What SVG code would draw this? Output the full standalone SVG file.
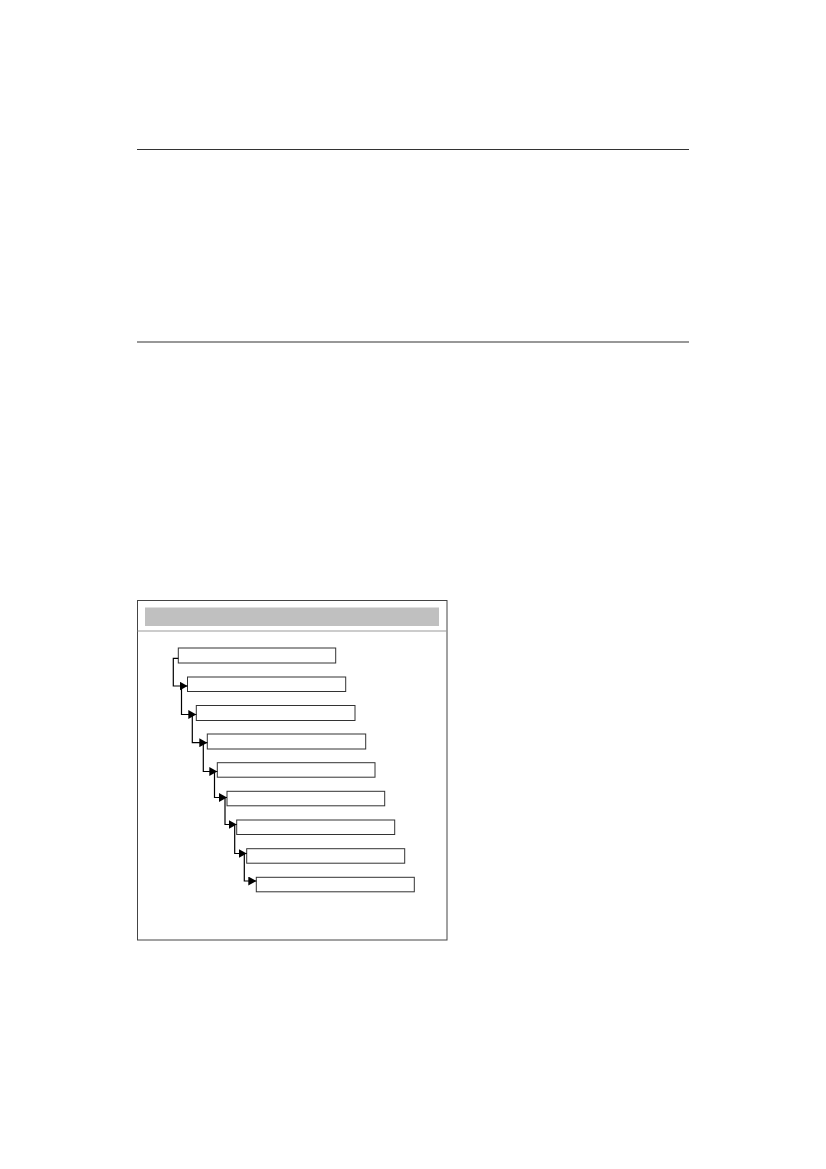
<svg xmlns="http://www.w3.org/2000/svg" width="826" height="1169" viewBox="0 0 826 1169">
<style>
.rule{stroke:#333;stroke-width:1.2;fill:none}
.box{fill:#fff;stroke:#333;stroke-width:1}
.conn{fill:none;stroke:#000;stroke-width:1.2}
</style>
<defs>
<marker id="arr" markerUnits="userSpaceOnUse" markerWidth="9" markerHeight="9" refX="8" refY="4.5" orient="auto">
<path d="M0,0 L8,4.5 L0,9 Z" fill="#000"/>
</marker>
</defs>
<rect width="826" height="1169" fill="#fff"/>
<line class="rule" x1="137" y1="149.5" x2="689" y2="149.5" stroke="#555"/>
<line class="rule" x1="137" y1="342" x2="689" y2="342" stroke="#000"/>
<g id="frame">
<rect x="137.5" y="600.5" width="309.5" height="339.5" fill="#fff" stroke="#444" stroke-width="1"/>
<rect x="145" y="607.5" width="294" height="18.5" fill="#c0c0c0"/>
<line x1="137.5" y1="631" x2="447" y2="631" stroke="#999" stroke-width="1"/>
</g>
<g id="nodes">
<g id="n0"><rect class="box" x="178.3" y="648" width="157.4" height="15"/></g>
<g id="n1"><rect class="box" x="187.5" y="677" width="158.2" height="14.5"/></g>
<g id="n2"><rect class="box" x="196.3" y="705.5" width="158.7" height="15" stroke="#888"/></g>
<g id="n3"><rect class="box" x="207.3" y="734" width="158.4" height="15"/></g>
<g id="n4"><rect class="box" x="217.3" y="762.7" width="157.7" height="14.5" stroke="#888"/></g>
<g id="n5"><rect class="box" x="227" y="791.3" width="157.7" height="14.5"/></g>
<g id="n6"><rect class="box" x="236.7" y="820" width="158" height="14.5"/></g>
<g id="n7"><rect class="box" x="246.7" y="848.7" width="158" height="14.5"/></g>
<g id="n8"><rect class="box" x="256.3" y="877.3" width="158" height="14.5"/></g>
</g>
<g id="connectors">
<polyline class="conn" points="178.3,658.3 173.3,658.3 173.3,686 187.5,686" marker-end="url(#arr)"/>
<polyline class="conn" points="181.5,686 181.5,714.5 196.3,714.5" marker-end="url(#arr)"/>
<polyline class="conn" points="192.3,714.5 192.3,742.7 207.3,742.7" marker-end="url(#arr)"/>
<polyline class="conn" points="203.3,742.7 203.3,771.5 217.3,771.5" marker-end="url(#arr)"/>
<polyline class="conn" points="214.5,771.5 214.5,797.5 227,797.5" marker-end="url(#arr)"/>
<polyline class="conn" points="225,797.5 225,824.5 236.7,824.5" marker-end="url(#arr)"/>
<polyline class="conn" points="234.7,824.5 234.7,853.5 246.7,853.5" marker-end="url(#arr)"/>
<polyline class="conn" points="244.3,853.5 244.3,881 256.3,881" marker-end="url(#arr)"/>
</g>
</svg>
